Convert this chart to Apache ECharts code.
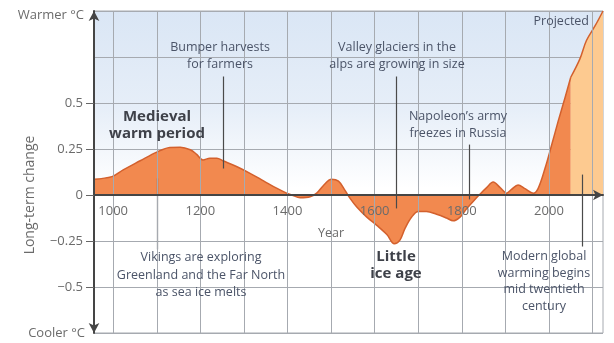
<!DOCTYPE html>
<html>
<head>
<meta charset="utf-8">
<script src="https://cdn.jsdelivr.net/npm/echarts@6/dist/echarts.min.js"></script>
<style>
  html, body { margin: 0; padding: 0; background: #ffffff; }
  #chart { width: 614px; height: 343px; }
</style>
</head>
<body>
<div id="chart"></div>
<script>
// Reconstructed long-term temperature change (°C) by year
const years = [956, 997, 1023, 1062, 1100, 1130, 1154, 1177, 1191, 1206, 1222, 1238, 1252, 1283, 1314, 1345, 1375, 1398, 1410, 1429, 1452, 1467, 1482, 1501, 1517, 1532, 1544, 1559, 1582, 1605, 1628, 1645, 1658, 1670, 1685, 1700, 1719, 1742, 1765, 1780, 1796, 1811, 1826, 1842, 1857, 1872, 1888, 1903, 1914, 1929, 1945, 1964, 1975, 1991, 2006, 2021, 2037, 2050];
const change = [0.086, 0.10, 0.137, 0.186, 0.233, 0.258, 0.26, 0.246, 0.222, 0.19, 0.20, 0.20, 0.186, 0.155, 0.118, 0.077, 0.037, 0.01, 0.0, -0.015, -0.01, 0.01, 0.05, 0.085, 0.075, 0.025, -0.02, -0.065, -0.12, -0.165, -0.215, -0.265, -0.245, -0.18, -0.12, -0.09, -0.09, -0.105, -0.125, -0.14, -0.12, -0.075, -0.035, 0.005, 0.04, 0.07, 0.04, 0.01, 0.03, 0.055, 0.035, 0.01, 0.035, 0.145, 0.27, 0.40, 0.53, 0.64];

// Projected change
const projectedYears = [2050, 2071, 2086, 2106, 2124];
const projectedChange = [0.64, 0.74, 0.84, 0.92, 1.0];

// Axis ticks and labels
const gridYears = [1000, 1100, 1200, 1300, 1400, 1500, 1600, 1700, 1800, 1900, 2000, 2100];
const labelYears = [1000, 1200, 1400, 1600, 1800, 2000];
const changeLabels = [-0.5, -0.25, 0, 0.25, 0.5];

// Leader lines: [year, from, to]
const leaders = [
  [1252, 0.644, 0.144],
  [1650, 0.644, -0.073],
  [1818, 0.274, -0.024],
  [1101, 0.09, -0.296],
  [2076, 0.111, -0.28]
];

const pairs = (xs, ys) => xs.map((x, i) => [x, ys[i]]);

const FONT = '"Open Sans", "Noto Sans", sans-serif';
const NOTE = '#4b5468';
const AXIS_TXT = '#6b6b6b';
const GRID = '#a6aab0';
const AXIS = '#454545';

const GRID_TOP = 11, GRID_BOTTOM = 10, CHART_H = 343;
const Y_MIN = -0.75, Y_MAX = 1;
// distance from the grid's bottom edge up to the zero line
const zeroLift = (CHART_H - GRID_TOP - GRID_BOTTOM) * (0 - Y_MIN) / (Y_MAX - Y_MIN);

const chart = echarts.init(document.getElementById('chart'), null, { renderer: 'canvas' });

function note(text, x, y, opts) {
  return {
    type: 'text',
    x: x, y: y,
    z: 20,
    style: Object.assign({
      text: text,
      fill: NOTE,
      font: '12.5px ' + FONT,
      align: 'center',
      verticalAlign: 'top',
      lineHeight: 17
    }, opts || {})
  };
}

chart.setOption({
  animation: false,
  grid: {
    left: 94, right: 11, top: GRID_TOP, bottom: GRID_BOTTOM,
    outerBoundsMode: 'none',
    containLabel: false,
    show: true,
    borderColor: GRID,
    borderWidth: 1,
    backgroundColor: new echarts.graphic.LinearGradient(0, 0, 0, 1, [
      { offset: 0, color: '#dae6f5' },
      { offset: 0.3, color: '#e6eef8' },
      { offset: 0.55, color: '#ffffff' },
      { offset: 1, color: '#ffffff' }
    ])
  },
  xAxis: [
    {
      // grid lines and year labels along the zero line
      type: 'value', min: 956, max: 2124, position: 'bottom',
      offset: -zeroLift, z: 10,
      axisLine: { show: false, onZero: false },
      axisTick: { show: false, customValues: gridYears },
      splitLine: { show: true, lineStyle: { color: GRID, width: 1 } },
      axisLabel: {
        customValues: labelYears,
        color: AXIS_TXT, fontFamily: FONT, fontSize: 13, margin: 10,
        formatter: v => String(v)
      }
    },
    {
      // visible zero line with arrow, drawn above the filled area
      type: 'value', min: 956, max: 2124, position: 'bottom', z: 10,
      axisLine: {
        show: true, onZero: true,
        lineStyle: { color: AXIS, width: 2 },
        symbol: ['none', 'arrow'], symbolSize: [8, 10]
      },
      axisTick: { show: false },
      axisLabel: { show: false },
      splitLine: { show: false }
    }
  ],
  yAxis: [
    {
      type: 'value', min: Y_MIN, max: Y_MAX, interval: 0.25,
      axisLine: { show: false },
      axisTick: { show: false },
      axisLabel: { show: false },
      splitLine: { show: true, lineStyle: { color: GRID, width: 1 } }
    },
    {
      type: 'value', min: Y_MIN, max: Y_MAX, position: 'left', z: 10,
      axisLine: {
        show: true, onZero: false,
        lineStyle: { color: AXIS, width: 2 },
        symbol: ['arrow', 'arrow'], symbolSize: [8, 10]
      },
      axisTick: { show: true, customValues: changeLabels, length: 8, lineStyle: { color: '#666', width: 1 } },
      axisLabel: {
        customValues: changeLabels,
        color: AXIS_TXT, fontFamily: FONT, fontSize: 13, margin: 11,
        formatter: v => String(v).replace('-', '\u2212')
      },
      splitLine: { show: false }
    }
  ],
  series: [
    {
      name: 'Reconstructed',
      type: 'line',
      data: pairs(years, change),
      smooth: 0.35,
      symbol: 'none',
      lineStyle: { color: '#d3602d', width: 1.5 },
      areaStyle: { color: '#f2894f', opacity: 1 },
      markLine: {
        silent: true,
        symbol: ['none', 'none'],
        label: { show: false },
        lineStyle: { color: '#4a4a4a', width: 1.2, type: 'solid' },
        data: leaders.map(l => [{ coord: [l[0], l[1]] }, { coord: [l[0], l[2]] }])
      }
    },
    {
      name: 'Projected',
      type: 'line',
      data: pairs(projectedYears, projectedChange),
      smooth: 0.35,
      symbol: 'none',
      lineStyle: { color: '#d3602d', width: 1.5 },
      areaStyle: { color: '#fdca90', opacity: 1 }
    }
  ],
  graphic: [
    note('Warmer °C', 84, 7, { align: 'right', fill: AXIS_TXT, font: '13px ' + FONT }),
    note('Cooler °C', 85, 325, { align: 'right', fill: AXIS_TXT, font: '13px ' + FONT }),
    {
      type: 'text', x: 30, y: 195, rotation: Math.PI / 2, z: 20,
      style: { text: 'Long-term change', fill: AXIS_TXT, font: '14px ' + FONT, align: 'center', verticalAlign: 'middle' }
    },
    note('Year', 331, 225, { fill: AXIS_TXT }),
    note('Projected', 589, 13, { align: 'right' }),
    note('Bumper harvests\nfor farmers', 220, 39),
    note('Valley glaciers in the\nalps are growing in size', 397, 39),
    note('Napoleon\u2019s army\nfreezes in Russia', 458, 108),
    note('Vikings are exploring\nGreenland and the Far North\nas sea ice melts', 201, 249, { lineHeight: 17.5 }),
    note('Modern global\nwarming begins\nmid twentieth\ncentury', 544, 248, { lineHeight: 16.7 }),
    note('Medieval\nwarm period', 157, 108, { font: 'bold 15px ' + FONT, fill: '#3e4149', lineHeight: 17 }),
    note('Little\nice age', 396, 248, { font: 'bold 15px ' + FONT, fill: '#3e4149', lineHeight: 17 })
  ]
});
</script>
</body>
</html>
